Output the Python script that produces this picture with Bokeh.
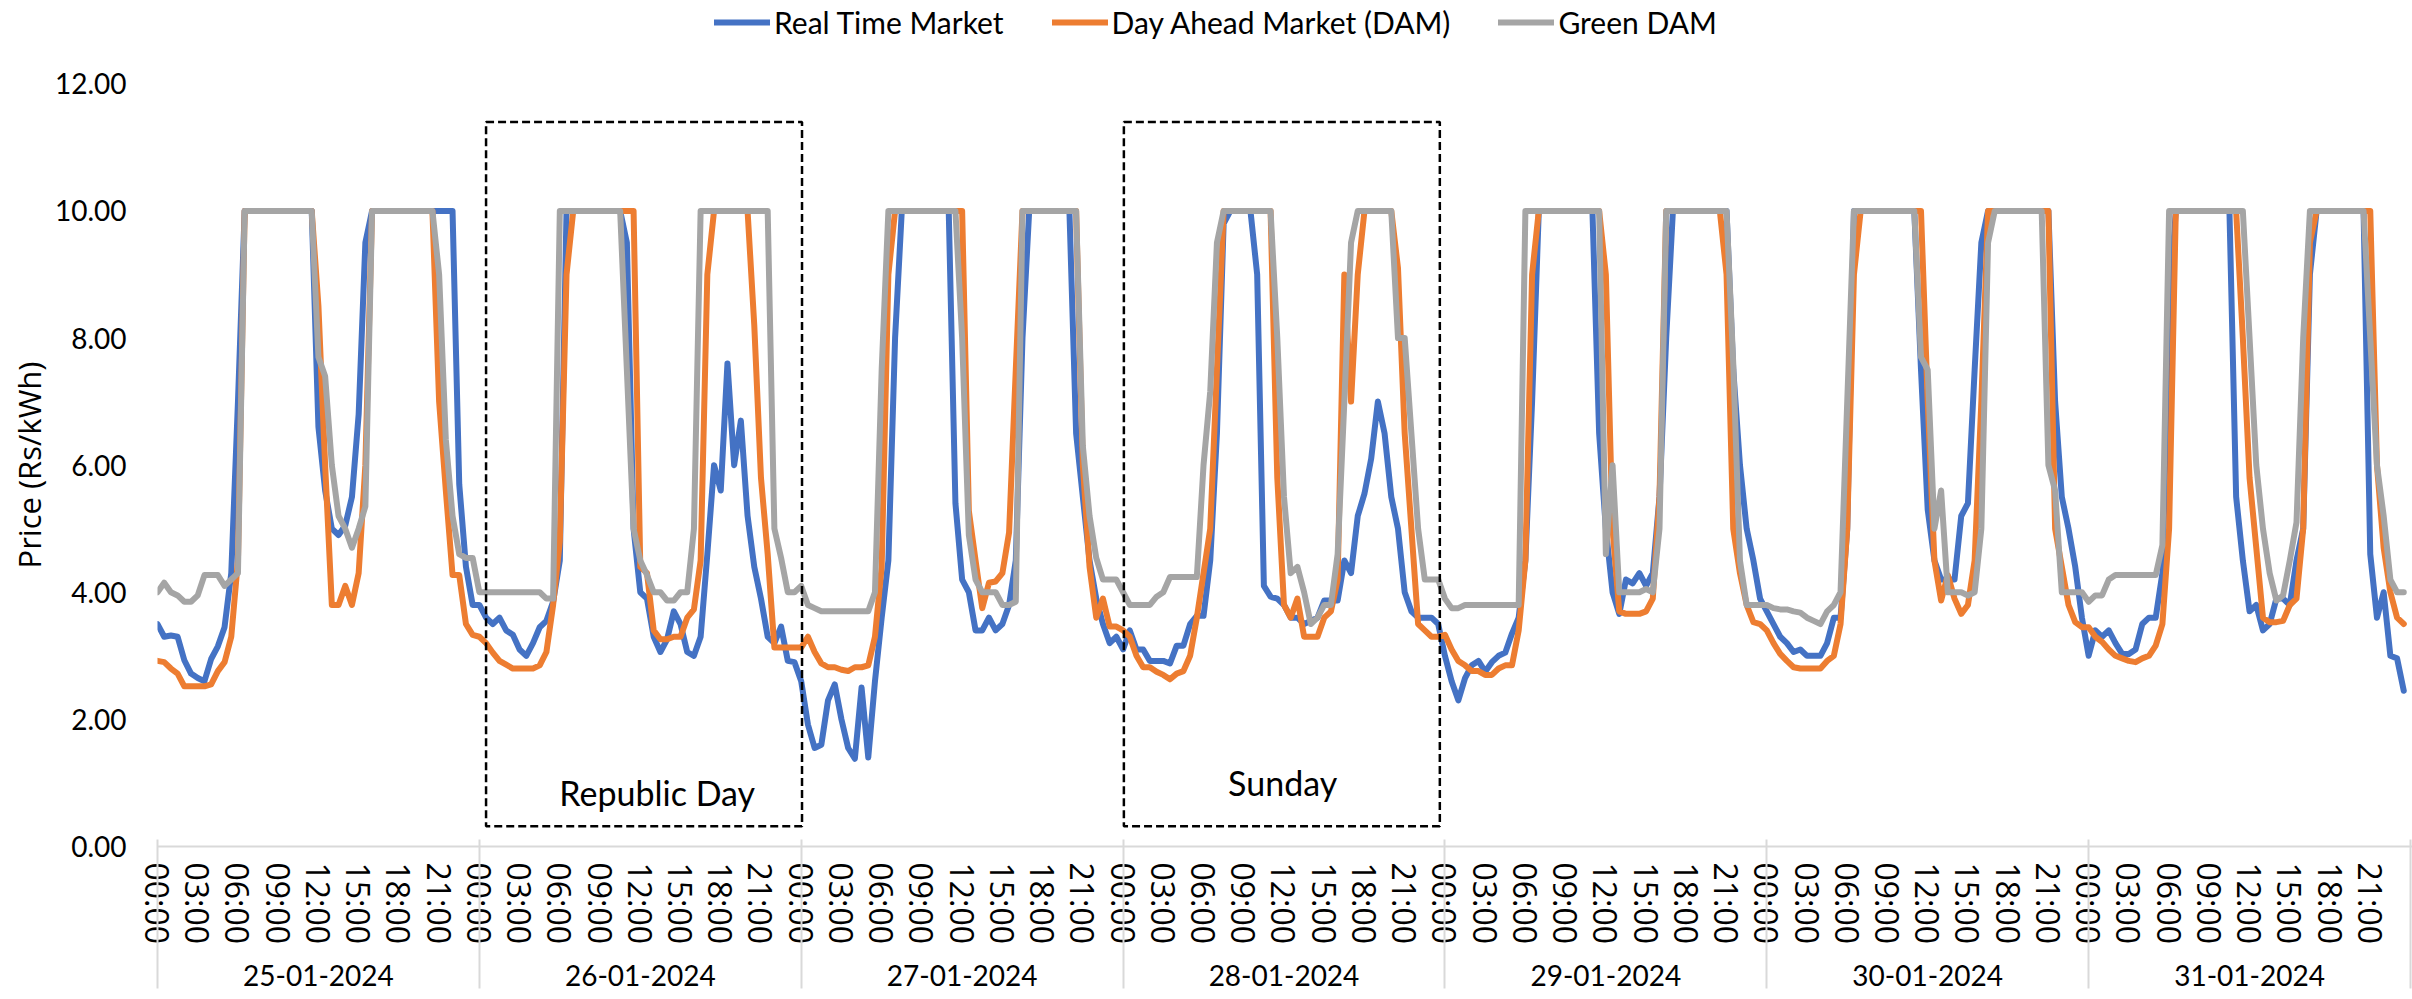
import numpy as np
from bokeh.plotting import figure
from bokeh.models import (Range1d, FixedTicker, LinearAxis, Legend, LegendItem, Title,
                          BoxAnnotation, ColumnDataSource, NumeralTickFormatter, Label)
from bokeh.embed import file_html
from bokeh.resources import INLINE

# ---------------- data (30-minute blocks, Rs/kWh) ----------------
dates = ["25-01-2024", "26-01-2024", "27-01-2024", "28-01-2024",
         "29-01-2024", "30-01-2024", "31-01-2024"]
hour_labels = ["00:00", "03:00", "06:00", "09:00", "12:00", "15:00", "18:00", "21:00"]
block_hours = 0.5

rtm_25 = [3.5, 3.3, 3.32, 3.3, 2.93, 2.72, 2.65, 2.6, 2.95, 3.15, 3.45, 4.3,
          7.0, 10, 10, 10, 10, 10, 10, 10, 10, 10, 10, 10,
          6.6, 5.6, 5.0, 4.9, 5.05, 5.5, 6.8, 9.5, 10, 10, 10, 10,
          10, 10, 10, 10, 10, 10, 10, 10, 10, 5.7, 4.4, 3.8]
dam_25 = [2.92, 2.9, 2.8, 2.72, 2.52, 2.52, 2.52, 2.52, 2.55, 2.76, 2.9, 3.3,
          4.5, 10, 10, 10, 10, 10, 10, 10, 10, 10, 10, 10,
          8.5, 6.0, 3.8, 3.8, 4.1, 3.8, 4.3, 6.0, 10, 10, 10, 10,
          10, 10, 10, 10, 10, 10, 7.0, 5.6, 4.27, 4.27, 3.5, 3.33]
gdam_25 = [4.0, 4.15, 4.0, 3.95, 3.85, 3.85, 3.95, 4.27, 4.27, 4.27, 4.1, 4.2,
           4.3, 10, 10, 10, 10, 10, 10, 10, 10, 10, 10, 10,
           7.7, 7.4, 6.0, 5.2, 5.0, 4.7, 5.0, 5.35, 10, 10, 10, 10,
           10, 10, 10, 10, 10, 10, 9.0, 6.4, 5.2, 4.6, 4.54, 4.54]

rtm_26 = [3.8, 3.6, 3.5, 3.6, 3.4, 3.33, 3.1, 3.0, 3.2, 3.45, 3.55, 3.85,
          4.5, 10, 10, 10, 10, 10, 10, 10, 10, 10, 9.5, 5.0,
          4.0, 3.9, 3.3, 3.06, 3.26, 3.7, 3.5, 3.06, 3.0, 3.3, 4.6, 6.0,
          5.6, 7.6, 6.0, 6.7, 5.2, 4.4, 3.9, 3.3, 3.2, 3.46, 2.92, 2.9]
dam_26 = [3.3, 3.2, 3.05, 2.92, 2.86, 2.8, 2.8, 2.8, 2.8, 2.85, 3.06, 3.8,
          4.8, 9.0, 10, 10, 10, 10, 10, 10, 10, 10, 10, 10,
          4.4, 4.3, 3.4, 3.26, 3.26, 3.3, 3.3, 3.6, 3.73, 4.5, 9.0, 10,
          10, 10, 10, 10, 10, 8.2, 5.8, 4.6, 3.13, 3.13, 3.13, 3.13]
gdam_26 = [4.0, 4.0, 4.0, 4.0, 4.0, 4.0, 4.0, 4.0, 4.0, 4.0, 3.9, 3.9,
           10, 10, 10, 10, 10, 10, 10, 10, 10, 10, 7.5, 5.0,
           4.5, 4.27, 4.0, 4.0, 3.87, 3.87, 4.0, 4.0, 5.0, 10, 10, 10,
           10, 10, 10, 10, 10, 10, 10, 10, 5.0, 4.54, 4.0, 4.0]

rtm_27 = [2.6, 1.92, 1.55, 1.6, 2.3, 2.55, 2.0, 1.55, 1.38, 2.5, 1.4, 2.6,
          3.6, 4.5, 8.0, 10, 10, 10, 10, 10, 10, 10, 10, 5.4,
          4.2, 4.0, 3.4, 3.4, 3.6, 3.4, 3.5, 3.8, 4.5, 8.0, 10, 10,
          10, 10, 10, 10, 10, 6.5, 5.5, 4.5, 3.9, 3.5, 3.2, 3.3]
dam_27 = [3.13, 3.3, 3.06, 2.88, 2.82, 2.82, 2.78, 2.76, 2.82, 2.82, 2.85, 3.3,
          4.4, 9.0, 10, 10, 10, 10, 10, 10, 10, 10, 10, 10,
          10, 5.28, 4.5, 3.75, 4.15, 4.17, 4.3, 4.94, 7.5, 10, 10, 10,
          10, 10, 10, 10, 10, 10, 6.0, 4.4, 3.6, 3.9, 3.46, 3.46]
gdam_27 = [4.1, 3.8, 3.75, 3.7, 3.7, 3.7, 3.7, 3.7, 3.7, 3.7, 3.7, 4.0,
           7.5, 10, 10, 10, 10, 10, 10, 10, 10, 10, 10, 10,
           8.0, 4.9, 4.2, 4.0, 4.0, 4.0, 3.8, 3.8, 3.85, 10, 10, 10,
           10, 10, 10, 10, 10, 10, 6.3, 5.2, 4.54, 4.2, 4.2, 4.2]

rtm_28 = [3.1, 3.4, 3.1, 3.1, 2.92, 2.92, 2.92, 2.88, 3.16, 3.16, 3.5, 3.63,
          3.63, 4.5, 6.5, 9.8, 10, 10, 10, 10, 9.0, 4.1, 3.93, 3.9,
          3.8, 3.6, 3.6, 3.5, 3.55, 3.6, 3.87, 3.87, 3.87, 4.5, 4.3, 5.2,
          5.55, 6.1, 7.0, 6.5, 5.5, 5.0, 4.0, 3.7, 3.6, 3.6, 3.6, 3.5]
dam_28 = [3.4, 3.3, 3.0, 2.82, 2.82, 2.75, 2.7, 2.63, 2.72, 2.76, 3.0, 3.6,
          4.3, 5.0, 7.5, 10, 10, 10, 10, 10, 10, 10, 10, 5.8,
          3.8, 3.6, 3.9, 3.3, 3.3, 3.3, 3.6, 3.7, 4.2, 9.0, 7.0, 9.0,
          10, 10, 10, 10, 10, 9.1, 6.5, 5.0, 3.5, 3.4, 3.3, 3.3]
gdam_28 = [4.0, 3.8, 3.8, 3.8, 3.8, 3.93, 4.0, 4.24, 4.24, 4.24, 4.24, 4.24,
           6.0, 7.16, 9.5, 10, 10, 10, 10, 10, 10, 10, 10, 8.0,
           5.5, 4.3, 4.4, 4.0, 3.5, 3.6, 3.8, 3.8, 4.6, 7.0, 9.5, 10,
           10, 10, 10, 10, 10, 8.0, 8.0, 6.5, 5.0, 4.2, 4.2, 4.2]

rtm_29 = [3.0, 2.6, 2.3, 2.65, 2.85, 2.92, 2.75, 2.9, 3.0, 3.05, 3.35, 3.6,
          4.5, 7.0, 10, 10, 10, 10, 10, 10, 10, 10, 10, 6.5,
          5.0, 4.0, 3.66, 4.2, 4.14, 4.3, 4.1, 4.3, 5.5, 8.0, 10, 10,
          10, 10, 10, 10, 10, 10, 10, 7.5, 6.0, 5.0, 4.5, 3.9]
dam_29 = [3.33, 3.1, 2.92, 2.85, 2.76, 2.76, 2.7, 2.7, 2.8, 2.85, 2.85, 3.4,
          4.5, 9.0, 10, 10, 10, 10, 10, 10, 10, 10, 10, 10,
          9.0, 5.0, 3.7, 3.66, 3.66, 3.66, 3.7, 3.9, 5.5, 10, 10, 10,
          10, 10, 10, 10, 10, 10, 9.0, 5.0, 4.3, 3.8, 3.53, 3.5]
gdam_29 = [3.9, 3.75, 3.75, 3.8, 3.8, 3.8, 3.8, 3.8, 3.8, 3.8, 3.8, 3.8,
           10, 10, 10, 10, 10, 10, 10, 10, 10, 10, 10, 10,
           4.6, 6.0, 4.0, 4.0, 4.0, 4.0, 4.05, 4.0, 5.0, 10, 10, 10,
           10, 10, 10, 10, 10, 10, 10, 7.6, 4.5, 3.8, 3.8, 3.8]

rtm_30 = [3.7, 3.5, 3.3, 3.2, 3.06, 3.1, 3.0, 3.0, 3.0, 3.2, 3.6, 3.6,
          5.0, 10, 10, 10, 10, 10, 10, 10, 10, 10, 10, 7.5,
          5.3, 4.5, 4.2, 4.2, 4.2, 5.2, 5.4, 7.5, 9.5, 10, 10, 10,
          10, 10, 10, 10, 10, 10, 10, 7.0, 5.5, 5.0, 4.4, 3.6]
dam_30 = [3.4, 3.2, 3.03, 2.92, 2.82, 2.8, 2.8, 2.8, 2.8, 2.92, 3.0, 3.5,
          5.0, 9.0, 10, 10, 10, 10, 10, 10, 10, 10, 10, 10,
          7.0, 4.5, 3.87, 4.27, 3.9, 3.66, 3.8, 4.5, 7.0, 10, 10, 10,
          10, 10, 10, 10, 10, 10, 10, 5.0, 4.4, 3.8, 3.53, 3.45]
gdam_30 = [3.8, 3.75, 3.73, 3.73, 3.7, 3.68, 3.6, 3.55, 3.5, 3.7, 3.8, 4.0,
           7.0, 10, 10, 10, 10, 10, 10, 10, 10, 10, 10, 7.7,
           7.5, 5.0, 5.6, 4.0, 4.0, 4.0, 3.95, 4.0, 5.0, 9.5, 10, 10,
           10, 10, 10, 10, 10, 10, 6.0, 5.6, 4.0, 4.0, 4.0, 4.0]

rtm_31 = [3.0, 3.4, 3.3, 3.4, 3.2, 3.03, 3.03, 3.1, 3.5, 3.6, 3.6, 4.3,
          8.5, 10, 10, 10, 10, 10, 10, 10, 10, 10, 5.5, 4.5,
          3.7, 3.8, 3.4, 3.5, 3.9, 3.9, 3.8, 4.5, 5.0, 9.0, 10, 10,
          10, 10, 10, 10, 10, 10, 4.6, 3.6, 4.0, 3.0, 2.96, 2.45]
dam_31 = [3.45, 3.3, 3.22, 3.1, 3.0, 2.96, 2.92, 2.9, 2.96, 3.0, 3.16, 3.5,
          5.0, 10, 10, 10, 10, 10, 10, 10, 10, 10, 10, 8.0,
          5.8, 4.7, 3.6, 3.53, 3.53, 3.55, 3.8, 3.9, 5.0, 9.5, 10, 10,
          10, 10, 10, 10, 10, 10, 10, 6.0, 4.7, 4.0, 3.6, 3.5]
gdam_31 = [3.85, 3.95, 3.95, 4.2, 4.27, 4.27, 4.27, 4.27, 4.27, 4.27, 4.27, 4.74,
           10, 10, 10, 10, 10, 10, 10, 10, 10, 10, 10, 10,
           8.0, 6.0, 5.0, 4.3, 3.87, 3.95, 4.5, 5.1, 8.0, 10, 10, 10,
           10, 10, 10, 10, 10, 10, 8.0, 6.0, 5.2, 4.2, 4.0, 4.0]

rtm = rtm_25 + rtm_26 + rtm_27 + rtm_28 + rtm_29 + rtm_30 + rtm_31
dam = dam_25 + dam_26 + dam_27 + dam_28 + dam_29 + dam_30 + dam_31
gdam = gdam_25 + gdam_26 + gdam_27 + gdam_28 + gdam_29 + gdam_30 + gdam_31
t = [i * block_hours for i in range(len(rtm))]

src = ColumnDataSource(dict(t=t, rtm=rtm, dam=dam, gdam=gdam))

# ---------------- figure ----------------
# The frame reaches the top edge so the legend (drawn in the frame) is not clipped;
# the price axis itself only shows 0-12.
W, H = 2412, 999
p = figure(width=W, height=H, output_backend="svg", toolbar_location=None,
           x_range=Range1d(0, 168.15), y_range=Range1d(0, 13.31),
           x_axis_type=None, y_axis_type=None,
           min_border_left=157, min_border_right=0, min_border_top=0, min_border_bottom=153)
p.outline_line_color = None
p.background_fill_color = "white"
p.border_fill_color = "white"

LBL = "Lato"
ALT = "Open Sans"
GRID = "#d9d9d9"

# y axis
yax = LinearAxis(ticker=FixedTicker(ticks=[0, 2, 4, 6, 8, 10, 12]),
                 formatter=NumeralTickFormatter(format="0.00"))
yax.axis_line_color = None
yax.major_tick_line_color = None
yax.minor_tick_line_color = None
yax.major_tick_out = 0
yax.major_tick_in = 0
yax.major_label_standoff = 31
yax.major_label_text_font = LBL
yax.major_label_text_font_size = "28px"
yax.major_label_text_color = "#000000"
p.add_layout(yax, "left")

# y-axis title as a side-panel title, placed over the middle of the 0-12 span
ytitle = Title(text="Price (Rs/kWh)", align="left", offset=278, standoff=4,
               text_font=ALT, text_font_size="31px", text_font_style="normal",
               text_color="#000000")
p.add_layout(ytitle, "left")

# hour-of-day axis
ndays = len(dates)
hour_ticks = [d * 24 + i * 3 for d in range(ndays) for i in range(len(hour_labels))]
hour_over = {d * 24 + i * 3: hour_labels[i] for d in range(ndays) for i in range(len(hour_labels))}
hax = LinearAxis(ticker=FixedTicker(ticks=hour_ticks, minor_ticks=[]),
                 major_label_overrides=hour_over)
hax.major_label_orientation = "vertical"
hax.axis_line_color = GRID
hax.axis_line_width = 2
hax.major_tick_line_color = None
hax.minor_tick_line_color = None
hax.major_tick_out = 0
hax.major_tick_in = 0
hax.minor_tick_out = 0
hax.minor_tick_in = 0
hax.major_label_standoff = 16
hax.major_label_text_font = ALT
hax.major_label_text_font_size = "32px"
hax.major_label_text_color = "#000000"
p.add_layout(hax, "below")

# date axis
date_ticks = [d * 24 + 12 for d in range(ndays)]
dax = LinearAxis(ticker=FixedTicker(ticks=date_ticks, minor_ticks=[]),
                 major_label_overrides={d * 24 + 12: dates[d] for d in range(ndays)})
dax.axis_line_color = None
dax.major_tick_line_color = None
dax.minor_tick_line_color = None
dax.major_tick_out = 0
dax.major_tick_in = 0
dax.minor_tick_out = 0
dax.minor_tick_in = 0
dax.major_label_standoff = 17
dax.major_label_text_font = LBL
dax.major_label_text_font_size = "28px"
dax.major_label_text_color = "#000000"
p.add_layout(dax, "below")

# day separators: outermost axis whose ticks point back up to the category axis line
day_edges = [d * 24 for d in range(ndays + 1)]
sax = LinearAxis(ticker=FixedTicker(ticks=day_edges, minor_ticks=[]),
                 major_label_overrides={e: " " for e in day_edges})
sax.axis_line_color = None
sax.major_tick_line_color = GRID
sax.major_tick_line_width = 2
sax.major_tick_in = 149
sax.major_tick_out = 0
sax.minor_tick_line_color = None
sax.minor_tick_out = 0
sax.minor_tick_in = 0
sax.major_label_standoff = 0
sax.major_label_text_font_size = "1px"
p.add_layout(sax, "below")

# highlight boxes
for left, right in [(24.5, 48.06), (72.06, 95.62)]:
    p.add_layout(BoxAnnotation(left=left, right=right, bottom=0.32, top=11.4,
                               fill_alpha=0, line_color="black", line_alpha=1.0,
                               line_width=2.5, line_dash="8 4"))

p.add_layout(Label(x=37.26, y=0.85, text="Republic Day", text_font=LBL,
                   text_font_size="34px", text_align="center", text_baseline="alphabetic",
                   text_color="black"))
p.add_layout(Label(x=83.9, y=1.0, text="Sunday", text_font=LBL,
                   text_font_size="34px", text_align="center", text_baseline="alphabetic",
                   text_color="black"))

# series
r1 = p.line("t", "rtm", source=src, line_color="#4472C4", line_width=6,
            line_join="round", line_cap="round")
r2 = p.line("t", "dam", source=src, line_color="#ED7D31", line_width=6,
            line_join="round", line_cap="round")
r3 = p.line("t", "gdam", source=src, line_color="#A5A5A5", line_width=6,
            line_join="round", line_cap="round")

legend = Legend(items=[LegendItem(label="Real Time Market", renderers=[r1]),
                       LegendItem(label="Day Ahead Market (DAM)", renderers=[r2]),
                       LegendItem(label="Green DAM", renderers=[r3])],
                orientation="horizontal", location=(557, 806),
                glyph_width=56, glyph_height=20, label_standoff=4, spacing=48,
                padding=0, margin=0, border_line_color=None, background_fill_alpha=0,
                label_text_font=LBL, label_text_font_size="30px", label_text_color="black")
p.add_layout(legend, "center")

open("out.html", "w").write(file_html(p, INLINE))
